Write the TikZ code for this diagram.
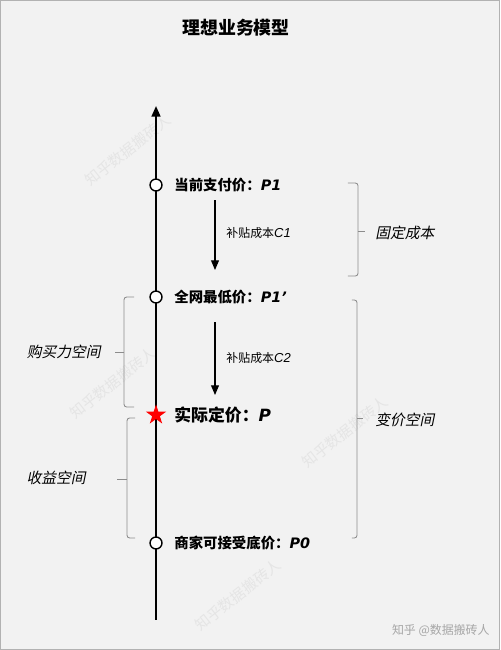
\documentclass[tikz,border=0pt]{standalone}
\usepackage{fontspec}
\setmainfont{Liberation Sans}
\newfontfamily\cjk{Noto Sans CJK SC}
\newfontfamily\cjkit[FakeSlant=0.2]{Noto Sans CJK SC}
\newfontfamily\numfont{DejaVu Sans}
\usetikzlibrary{arrows.meta,shapes.geometric}

\begin{document}
\begin{tikzpicture}[x=0.02cm,y=-0.02cm,
    pt/.style={draw, circle, fill=white, line width=0.8pt, inner sep=0, minimum size=6.8pt},
    lbl/.style={anchor=west, inner sep=0, font=\cjk\bfseries\fontsize{8.2}{10}\selectfont},
    sub/.style={anchor=west, inner sep=0, font=\cjk\fontsize{6.8}{8}\selectfont},
    rng/.style={inner sep=0, font=\cjkit\fontsize{8.4}{10}\selectfont},
    brc/.style={draw=black!45, line width=0.5pt, rounded corners=1.5pt},
    tip/.style={-{Triangle[length=5.5pt,width=4.5pt]}}]
    % background and frame
    \fill[black!5] (0,0) rectangle (500,650);
    \draw[black!30, line width=0.6pt] (0.5,0.5) rectangle (499.5,649.5);
    \useasboundingbox (0,0) rectangle (500,650);

    % faint watermarks
    \foreach \x/\y in {128/150, 113/383, 345/432, 238/595}
        \node[black!10, rotate=38, font=\cjk\fontsize{8.5}{10}\selectfont] at (\x,\y) {知乎数据搬砖人};

    % title
    \node[font=\cjk\bfseries\fontsize{10.2}{12}\selectfont] (title) at (236,28) {理想业务模型};

    % the price axis
    \coordinate (bot) at (156,620);
    \coordinate (top) at (156,106);
    \draw[line width=1.1pt, -{Triangle[length=6pt,width=5pt]}] (bot) -- (top);

    % price points on the axis
    \node[pt] (p1) at (156,185) {};
    \node[pt] (p1b) at (156,297) {};
    \node[star, star points=5, star point ratio=2.6, fill=red, inner sep=0, minimum size=12pt] (p) at (156,415) {};
    \node[pt] (p0) at (156,543) {};

    % labels of the points
    \node[lbl] (lp1) at (174,185) {当前支付价：{\numfont\bfseries\itshape P1}};
    \node[lbl] (lp1b) at (174,297) {全网最低价：{\numfont\bfseries\itshape P1’}};
    \node[lbl, font=\cjk\bfseries\fontsize{9.6}{11}\selectfont] (lp) at (174,415) {实际定价：{\numfont\bfseries\itshape P}};
    \node[lbl] (lp0) at (174,543) {商家可接受底价：{\numfont\bfseries\itshape P0}};

    % subsidy arrows
    \coordinate (c1a) at (215,200);
    \coordinate (c1b) at (215,270);
    \coordinate (c2a) at (215,322);
    \coordinate (c2b) at (215,395);
    \draw[line width=0.6pt, tip] (c1a) -- (c1b);
    \draw[line width=0.6pt, tip] (c2a) -- (c2b);
    \node[sub] (lc1) at (226,233) {补贴成本{\rmfamily\itshape\fontsize{7.4}{8}\selectfont C1}};
    \node[sub] (lc2) at (226,358) {补贴成本{\rmfamily\itshape\fontsize{7.4}{8}\selectfont C2}};

    % right braces
    \draw[brc] (348,183) -- (358,183) -- (358,276) -- (348,276);
    \draw[brc] (358,231) -- (365,231);
    \node[rng, anchor=west] (fix) at (375,233) {固定成本};
    \draw[brc] (352,300) -- (357,300) -- (357,538) -- (352,538);
    \draw[brc] (357,418) -- (363,418);
    \node[rng, anchor=west] (var) at (375,420) {变价空间};

    % left braces
    \draw[brc] (134,297) -- (124,297) -- (124,407) -- (134,407);
    \draw[brc] (124,352) -- (115,352);
    \node[rng, anchor=east] (buy) at (101,352) {购买力空间};
    \draw[brc] (135,418) -- (127,418) -- (127,538) -- (135,538);
    \draw[brc] (127,479) -- (117,479);
    \node[rng, anchor=east] (gain) at (86,478) {收益空间};

    % credit
    \node[anchor=east, inner sep=0, black!35, font=\cjk\fontsize{6.8}{8}\selectfont] (credit) at (490,631) {知乎 @数据搬砖人};
\end{tikzpicture}
\end{document}
